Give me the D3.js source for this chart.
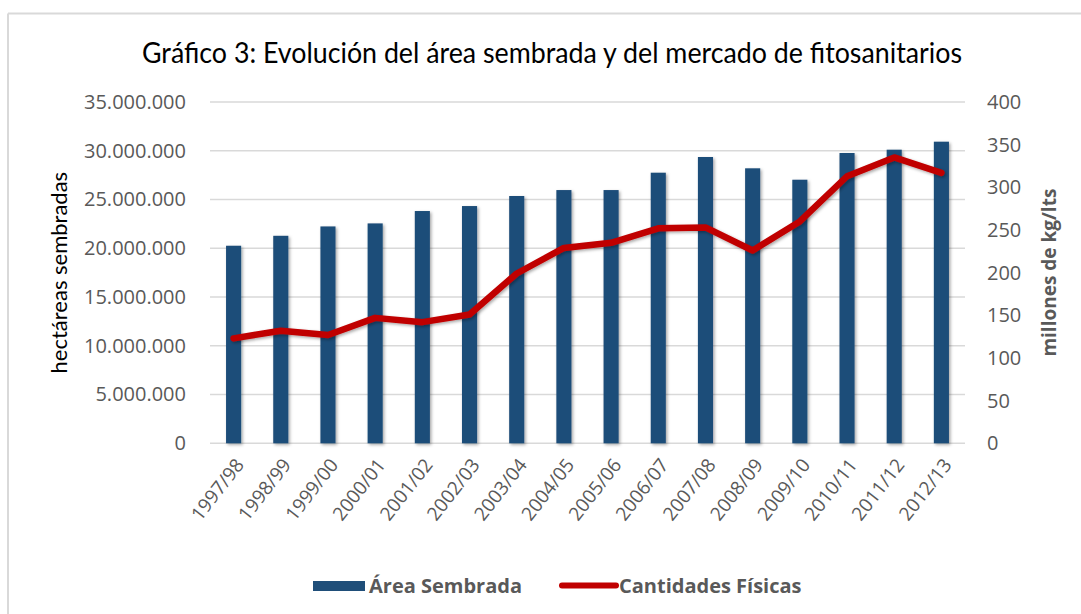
<!DOCTYPE html>
<html>
<head>
<meta charset="utf-8">
<script src="https://cdn.jsdelivr.net/npm/d3@7"></script>
<style>
  body { margin: 0; background: #fff; }
  text { font-family: Lato, "Open Sans", sans-serif; fill: #595959; }
</style>
</head>
<body>
<svg id="chart" width="1081" height="614"></svg>
<script>
// campaigns
var campaigns = ["1997/98", "1998/99", "1999/00", "2000/01", "2001/02", "2002/03", "2003/04", "2004/05",
  "2005/06", "2006/07", "2007/08", "2008/09", "2009/10", "2010/11", "2011/12", "2012/13"];
// hectareas sembradas
var area = [20260000, 21280000, 22240000, 22550000, 23820000, 24330000, 25360000, 25970000,
  25970000, 27750000, 29360000, 28200000, 27030000, 29770000, 30110000, 30930000];
// millones de kg/lts
var cantidades = [123, 132, 127, 147, 142, 151, 199, 229, 235, 252, 253, 226, 260, 313, 335, 317];
var leftTicks = [0, 5e6, 10e6, 15e6, 20e6, 25e6, 30e6, 35e6];
var rightTicks = [0, 50, 100, 150, 200, 250, 300, 350, 400];

var svg = d3.select("#chart");
var plotLeft = 210, plotRight = 965, plotTop = 102, plotBottom = 443.3;
var sans = "\"Open Sans\", sans-serif";

var locale = d3.formatLocale({ decimal: ",", thousands: ".", grouping: [3], currency: ["", ""] });
var fmt = locale.format(",");

var x = d3.scaleBand().domain(campaigns).range([plotLeft, plotRight]).paddingInner(0.68).paddingOuter(0.34);
var y0 = d3.scaleLinear().domain([0, 35e6]).range([plotBottom, plotTop]);
var y1 = d3.scaleLinear().domain([0, 400]).range([plotBottom, plotTop]);

var defs = svg.append("defs");
var f = defs.append("filter").attr("id", "shadow").attr("x", "-50%").attr("y", "-10%").attr("width", "200%").attr("height", "120%");
f.append("feDropShadow").attr("dx", 1.5).attr("dy", 1.5).attr("stdDeviation", 1.5).attr("flood-color", "#000").attr("flood-opacity", 0.35);

// frame (top + left only visible)
svg.append("line").attr("x1", 8).attr("x2", 1081).attr("y1", 13.5).attr("y2", 13.5).attr("stroke", "#d9d9d9").attr("stroke-width", 2);
svg.append("line").attr("x1", 8).attr("x2", 8).attr("y1", 13.5).attr("y2", 614).attr("stroke", "#d9d9d9").attr("stroke-width", 2);

svg.append("text")
  .attr("x", 552).attr("y", 63)
  .attr("text-anchor", "middle")
  .attr("textLength", 820).attr("lengthAdjust", "spacingAndGlyphs")
  .style("font-size", "28px").style("fill", "#000")
  .text("Gráfico 3: Evolución del área sembrada y del mercado de fitosanitarios");

// grid
svg.append("g").selectAll("line")
  .data(leftTicks)
  .enter()
  .append("line")
  .attr("x1", plotLeft).attr("x2", plotRight)
  .attr("y1", d => y0(d)).attr("y2", d => y0(d))
  .attr("stroke", "#d9d9d9").attr("stroke-width", 1.5);

// left axis
var axL = svg.append("g").attr("transform", "translate(" + plotLeft + ",0)")
  .call(d3.axisLeft(y0).tickValues(leftTicks).tickFormat(fmt).tickSize(0).tickPadding(24));
axL.select(".domain").remove();
axL.selectAll("text").style("font-size", "20px").style("fill", "#595959").style("font-family", sans);

// right axis
var axR = svg.append("g").attr("transform", "translate(" + plotRight + ",0)")
  .call(d3.axisRight(y1).tickValues(rightTicks).tickSize(0).tickPadding(22));
axR.select(".domain").remove();
axR.selectAll("text").style("font-size", "20px").style("fill", "#595959").style("font-family", sans);

svg.append("text")
  .attr("transform", "translate(67," + ((plotTop + plotBottom) / 2) + ") rotate(-90)")
  .attr("text-anchor", "middle")
  .style("font-size", "22px").style("fill", "#000")
  .text("hectáreas sembradas");

svg.append("text")
  .attr("transform", "translate(1056," + ((plotTop + plotBottom) / 2) + ") rotate(-90)")
  .attr("text-anchor", "middle")
  .style("font-size", "19px").style("font-weight", "bold")
  .style("font-family", sans)
  .text("millones de kg/lts");

// bars
svg.append("g").selectAll("rect")
  .data(campaigns)
  .enter()
  .append("rect")
  .attr("x", (d, i) => x(d))
  .attr("width", x.bandwidth())
  .attr("y", (d, i) => y0(area[i]))
  .attr("height", (d, i) => plotBottom - y0(area[i]))
  .attr("fill", "#1f4e79")
  .attr("filter", "url(#shadow)");

// x labels
svg.append("g").selectAll("text")
  .data(campaigns)
  .enter()
  .append("text")
  .attr("transform", d => "translate(" + (x(d) + x.bandwidth() / 2 + 6) + ",461) rotate(-52)")
  .attr("text-anchor", "end")
  .attr("dy", "0.35em")
  .style("font-size", "19px")
  .style("font-family", sans)
  .text(d => d);

// line
var line = d3.line()
  .x((d, i) => x(campaigns[i]) + x.bandwidth() / 2)
  .y(d => y1(d));

svg.append("path")
  .datum(cantidades)
  .attr("d", line)
  .attr("fill", "none")
  .attr("stroke", "#c00000")
  .attr("stroke-width", 6.5)
  .attr("stroke-linejoin", "round")
  .attr("stroke-linecap", "round")
  .attr("filter", "url(#shadow)");

// legend
var lg = svg.append("g");
lg.append("rect").attr("x", 313).attr("y", 581).attr("width", 52).attr("height", 10).attr("fill", "#1f4e79");
lg.append("text").attr("x", 369).attr("y", 593)
  .style("font-size", "20px").style("font-weight", "bold").style("font-family", sans)
  .text("Área Sembrada");
lg.append("line").attr("x1", 562).attr("x2", 616).attr("y1", 585.5).attr("y2", 585.5)
  .attr("stroke", "#c00000").attr("stroke-width", 6).attr("stroke-linecap", "round");
lg.append("text").attr("x", 619).attr("y", 593)
  .style("font-size", "20px").style("font-weight", "bold").style("font-family", sans)
  .text("Cantidades Físicas");
</script>
</body>
</html>
